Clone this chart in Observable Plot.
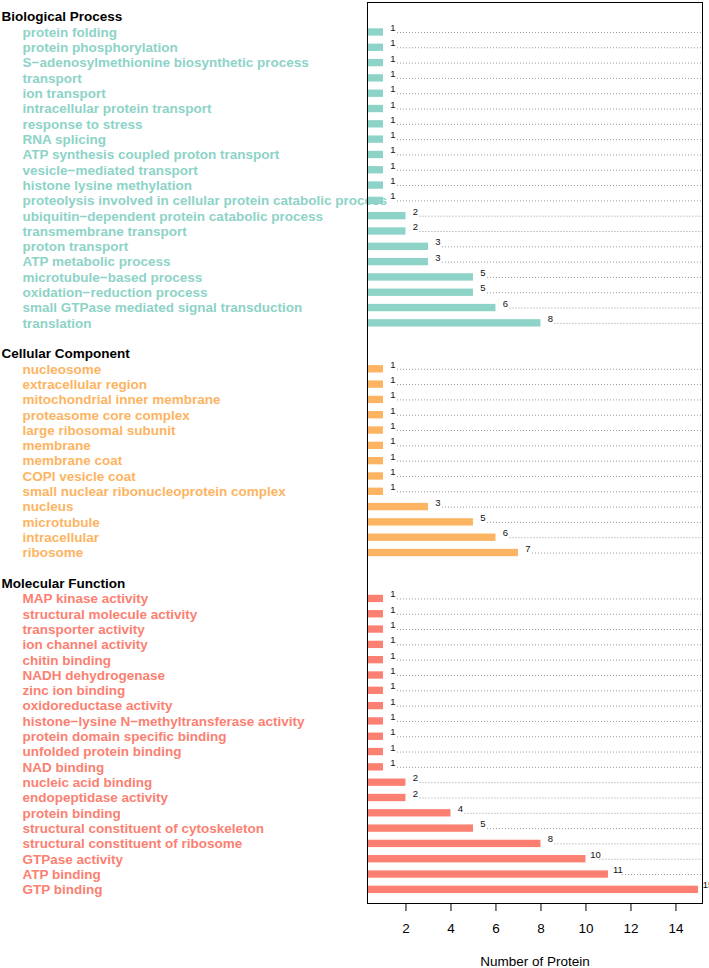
<!DOCTYPE html>
<html>
<head>
<meta charset="utf-8">
<script src="https://cdn.jsdelivr.net/npm/d3@7"></script>
<script src="https://cdn.jsdelivr.net/npm/@observablehq/plot@0.6"></script>
<style>
  body { margin: 0; background: #fff; }
</style>
</head>
<body>
<div id="chart"></div>
<script>
const bpTerms = [
  "protein folding", "protein phosphorylation", "S−adenosylmethionine biosynthetic process",
  "transport", "ion transport", "intracellular protein transport", "response to stress",
  "RNA splicing", "ATP synthesis coupled proton transport", "vesicle−mediated transport",
  "histone lysine methylation", "proteolysis involved in cellular protein catabolic process",
  "ubiquitin−dependent protein catabolic process", "transmembrane transport", "proton transport",
  "ATP metabolic process", "microtubule−based process", "oxidation−reduction process",
  "small GTPase mediated signal transduction", "translation"
]
const bpCounts = [1, 1, 1, 1, 1, 1, 1, 1, 1, 1, 1, 1, 2, 2, 3, 3, 5, 5, 6, 8]

const ccTerms = [
  "nucleosome", "extracellular region", "mitochondrial inner membrane", "proteasome core complex",
  "large ribosomal subunit", "membrane", "membrane coat", "COPI vesicle coat",
  "small nuclear ribonucleoprotein complex", "nucleus", "microtubule", "intracellular", "ribosome"
]
const ccCounts = [1, 1, 1, 1, 1, 1, 1, 1, 1, 3, 5, 6, 7]

const mfTerms = [
  "MAP kinase activity", "structural molecule activity", "transporter activity", "ion channel activity",
  "chitin binding", "NADH dehydrogenase", "zinc ion binding", "oxidoreductase activity",
  "histone−lysine N−methyltransferase activity", "protein domain specific binding",
  "unfolded protein binding", "NAD binding", "nucleic acid binding", "endopeptidase activity",
  "protein binding", "structural constituent of cytoskeleton", "structural constituent of ribosome",
  "GTPase activity", "ATP binding", "GTP binding"
]
const mfCounts = [1, 1, 1, 1, 1, 1, 1, 1, 1, 1, 1, 1, 2, 2, 4, 5, 8, 10, 11, 15]

const groupNames = ["Biological Process", "Cellular Component", "Molecular Function"]
const groupColors = ["#8dd3c7", "#fdb462", "#fb8072"]
const xTicks = [2, 4, 6, 8, 10, 12, 14]

const groups = [[bpTerms, bpCounts], [ccTerms, ccCounts], [mfTerms, mfCounts]]

// one row per term, plus a header row per group and an empty row between groups
let rows = []
groups.forEach(([terms, counts], i) => {
  if (i > 0) rows.push({key: 'gap' + i, kind: 'gap'})
  rows.push({key: 'head' + i, kind: 'head', label: groupNames[i]})
  terms.forEach((t, j) => rows.push({
    key: i + ':' + t, kind: 'term', label: t, value: counts[j], color: groupColors[i]
  }))
})
const termRows = rows.filter(d => d.kind == 'term')
const headRows = rows.filter(d => d.kind == 'head')

const xMin = 0.29, xMax = 15.18
const font = 'Liberation Sans, Arial, Helvetica, sans-serif'

let chart = Plot.plot({
  width: 709,
  height: 968,
  marginLeft: 367,
  marginRight: 7,
  marginTop: 2,
  marginBottom: 65,
  style: {fontFamily: font, background: 'white'},
  x: {domain: [xMin, xMax]},
  y: {
    type: 'band',
    domain: rows.map(d => d.key),
    range: [9, 897],
    paddingInner: 0.52,
    paddingOuter: 0.26,
    round: false,
    axis: null
  },
  color: {type: 'identity'},
  marks: [
    Plot.ruleY(termRows, {
      y: 'key', x1: 'value', x2: xMax, dx: 14,
      stroke: '#999', strokeWidth: 1, strokeDasharray: '1,2', clip: true
    }),
    Plot.barX(termRows, {y: 'key', x: 'value', fill: 'color', clip: true}),
    Plot.text(termRows, {
      y: 'key', x: 'value', text: d => d.value,
      dx: 9.5, dy: -4.5, fontSize: 9.5, fill: '#111'
    }),
    Plot.text(termRows, {
      y: 'key', text: 'label', fill: 'color', frameAnchor: 'left', textAnchor: 'start',
      dx: -345, fontSize: 13.5, fontWeight: 'bold'
    }),
    Plot.text(headRows, {
      y: 'key', text: 'label', fill: 'black', frameAnchor: 'left', textAnchor: 'start',
      dx: -366, fontSize: 13.5, fontWeight: 'bold'
    }),
    Plot.frame({stroke: 'black'}),
    Plot.axisX({
      ticks: xTicks,
      tickSize: 8,
      tickPadding: 12,
      fontSize: 13.5,
      label: 'Number of Protein',
      labelAnchor: 'center',
      labelArrow: 'none'
    })
  ]
})
d3.select('#chart').append(() => chart)
</script>
</body>
</html>
